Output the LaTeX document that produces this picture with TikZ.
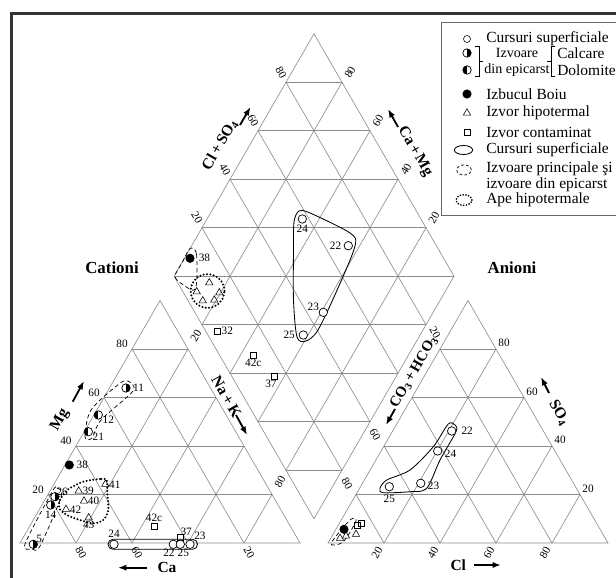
\documentclass[tikz,border=0pt]{standalone}
\usepackage{fontspec}
\setmainfont{Liberation Serif}
\usetikzlibrary{calc,shapes.geometric,arrows.meta,positioning}

\tikzset{
  gridline/.style={black!45, line width=0.45pt},
  num/.style={font=\fontsize{8}{9}\selectfont, inner sep=0.6pt},
  axname/.style={font=\fontsize{11}{12}\selectfont\bfseries, inner sep=0.5pt},
  axarrow/.style={-{Latex[length=6pt,width=4.5pt]}, line width=1.3pt},
  legtext/.style={font=\fontsize{11}{12}\selectfont, anchor=west, inner sep=0pt},
  surf/.style={circle, draw, fill=white, line width=0.5pt, minimum size=6pt, inner sep=0pt},
  calcare/.style={surf, path picture={\fill[black] (path picture bounding box.north) rectangle (path picture bounding box.south east);}},
  dolomite/.style={surf, path picture={\fill[black] (path picture bounding box.north) rectangle (path picture bounding box.south west);}},
  boiu/.style={circle, fill=black, minimum size=6.5pt, inner sep=0pt},
  hipo/.style={regular polygon, regular polygon sides=3, draw, line width=0.4pt, minimum size=6pt, inner sep=0pt},
  contam/.style={rectangle, draw, line width=0.4pt, minimum size=4.3pt, inner sep=0pt},
  grpsurf/.style={line width=0.6pt},
  grpizv/.style={line width=0.5pt, dash pattern=on 3pt off 2pt},
  grphipo/.style={line width=1.6pt, dash pattern=on 0pt off 2.4pt, line cap=round},
}

\begin{document}
\begin{tikzpicture}[x=0.025cm, y=-0.025cm]
  \useasboundingbox (0,0) rectangle (616,577);
  % Frame
  \draw[line width=1.5pt, black!80] (11.5,580) |- (620,13.5);

  % Vertices of the two triangles and of the diamond
  \coordinate (Ca) at (20,543);
  \coordinate (NaK) at (300,543);
  \coordinate (Mg) at (160,300.5);
  \coordinate (HCO) at (328,543);
  \coordinate (Cl) at (608,543);
  \coordinate (SO) at (468,300.5);
  \coordinate (DB) at (314,518.75);
  \coordinate (DL) at (174,276.26);
  \coordinate (DT) at (314,33.77);
  \coordinate (DR) at (454,276.26);

  % Grids
  \draw[gridline] (Ca) -- (NaK) -- (Mg) -- cycle;
  \draw[gridline] (HCO) -- (Cl) -- (SO) -- cycle;
  \draw[gridline] (DB) -- (DL) -- (DT) -- (DR) -- cycle;
  \draw[gridline] (DL) -- (DR);
  \foreach \k in {0.2,0.4,0.6,0.8}{
    \draw[gridline] ($(Ca)!\k!(NaK)$) -- ($(Ca)!\k!(Mg)$);
    \draw[gridline] ($(NaK)!\k!(Ca)$) -- ($(NaK)!\k!(Mg)$);
    \draw[gridline] ($(Mg)!\k!(Ca)$) -- ($(Mg)!\k!(NaK)$);
    \draw[gridline] ($(HCO)!\k!(Cl)$) -- ($(HCO)!\k!(SO)$);
    \draw[gridline] ($(Cl)!\k!(HCO)$) -- ($(Cl)!\k!(SO)$);
    \draw[gridline] ($(SO)!\k!(HCO)$) -- ($(SO)!\k!(Cl)$);
    \draw[gridline] ($(DB)!\k!(DR)$) -- ($(DL)!\k!(DT)$);
    \draw[gridline] ($(DB)!\k!(DL)$) -- ($(DR)!\k!(DT)$);
    \draw[gridline] ($(DB)!\k!(DL)$) -- ($(DB)!\k!(DR)$);
    \draw[gridline] ($(DT)!\k!(DL)$) -- ($(DT)!\k!(DR)$);
  }

  % Scale values
  \foreach \v/\k in {20/0.2,40/0.4,60/0.6,80/0.8}{
    \node[num] at ($(Ca)!\k!(Mg)+(-10,-5)$) {\v};
    \node[num] at ($(Cl)!\k!(SO)+(8,-6)$) {\v};
    \node[num, rotate=60] at ($(HCO)!\k!(Cl)+(-7,10)$) {\v};
    \node[num, rotate=-60] at ($(DL)!\k!(DT)+(-5,-10)$) {\v};
  }
  \foreach \v/\k in {80/0.2,60/0.4,40/0.6,20/0.8}
    \node[num, rotate=60] at ($(DT)!\k!(DR)+(8,-10)$) {\v};
  \foreach \v/\k in {80/0.2,60/0.4,20/0.8}
    \node[num, rotate=-60] at ($(Ca)!\k!(NaK)+(5,10)$) {\v};
  \foreach \v/\k in {20/0.8,80/0.2}
    \node[num, rotate=60] at ($(NaK)!\k!(Mg)+(8,-13)$) {\v};
  \foreach \v/\k in {60/0.4,80/0.2}
    \node[num, rotate=-60] at ($(HCO)!\k!(SO)+(-9,-11)$) {\v};
  \node[num, rotate=-60] at ($(HCO)!0.8!(SO)+(-5,-16)$) {20};

  % Axis names
  \node[font=\fontsize{12}{14}\selectfont\bfseries] (cationi) at (112,268) {Cationi};
  \node[font=\fontsize{12}{14}\selectfont\bfseries] (anioni) at (512,268) {Anioni};
  \node[axname, rotate=60] (tMg) at (60,420) {Mg};
  \draw[axarrow] (72.7,401.7) -- (84,381);
  \node[axname] (tCa) at (167,567.7) {Ca};
  \draw[axarrow] (147,567.7) -- (118,567.7);
  \node[axname, rotate=-60] (tNaK) at (226.5,396.5) {Na\,+\,K};
  \draw[axarrow] (236,415) -- (247,435);
  \node[axname] (tCl) at (458.3,565) {Cl};
  \draw[axarrow] (474,565) -- (501,565);
  \node[axname, rotate=-60] (tSO) at (559,413) {SO\textsubscript{4}};
  \draw[axarrow] (549,393) -- (541,377);
  \node[axname, rotate=60, font=\fontsize{10.5}{12}\selectfont\bfseries] (tHCO) at (414,372) {CO\textsubscript{3}\,+\,HCO\textsubscript{3}};
  \draw[axarrow] (395,409) -- (386,425);
  \node[axname, rotate=60] (tClSO) at (220,145) {Cl\,+\,SO\textsubscript{4}};
  \draw[axarrow] (240,125) -- (250.5,107);
  \node[axname, rotate=-60] (tCaMg) at (415,151.7) {Ca\,+\,Mg};
  \draw[axarrow] (398,127) -- (388,109);

  % Groups, cation triangle
  \draw[grpizv] plot[smooth cycle] coordinates {(128,381) (133,391) (101,420) (92,438) (85,437) (91,410) (119,384)};
  \draw[grpizv] plot[smooth cycle] coordinates {(52,492) (57,488) (61,497) (40,546) (32,549) (25,544)};
  \draw[grphipo] plot[smooth cycle] coordinates {(106.7,480) (100,479) (83.3,481.7) (68.3,489.3) (60,500) (59.3,508.3) (66.7,515) (80,520) (93.3,523.3) (103.3,520) (108.3,510) (107.3,493.3)};
  \draw[grpsurf, rounded corners=3.5pt] (108,539.3) rectangle (197.5,549.3);

  % Points, cation triangle
  \node[calcare] (c11) at (126,388) {};
  \node[num, right=1pt of c11] {11};
  \node[dolomite] (c12) at (98.3,415) {};
  \node[num, below right=-2pt and 0pt of c12] {12};
  \node[dolomite] (c21) at (88.3,431.7) {};
  \node[num, below right=-2pt and 0pt of c21] {21};
  \node[boiu] (c38) at (69.3,465) {};
  \node[num, right=1pt of c38] {38};
  \node[calcare] (c26) at (55,496.7) {};
  \node[num, above right=-2pt and -2pt of c26] {26};
  \node[calcare] (c14) at (50.7,505) {};
  \node[num, below=0pt of c14] {14};
  \node[calcare] (c5) at (33.3,544.3) {};
  \node[num, above right=-2pt and -1pt of c5] {5};
  \node[hipo] (c39) at (78.7,491) {};
  \node[num, right=0pt of c39] {39};
  \node[hipo] (c41) at (105.3,484.3) {};
  \node[num, right=0pt of c41] {41};
  \node[hipo] (c40) at (84,501) {};
  \node[num, right=0pt of c40] {40};
  \node[hipo] (c42) at (66,509.3) {};
  \node[num, right=0pt of c42] {42};
  \node[hipo] (c43) at (88.7,517.7) {};
  \node[num, below=0pt of c43] {43};
  \node[contam] (c42c) at (154,526) {};
  \node[num, above=0pt of c42c] {42c};
  \node[contam] (c37) at (180.3,537.7) {};
  \node[num, above right=-2pt and -3pt of c37] {37};
  \node[surf] (c24) at (114,544.3) {};
  \node[num, above=1pt of c24] {24};
  \node[surf] (c22) at (173.3,544.3) {};
  \node[num, below left=0pt and -4pt of c22] {22};
  \node[surf] (c25) at (180.3,544.3) {};
  \node[num, below right=0pt and -5pt of c25] {25};
  \node[surf] (c23) at (190,544.3) {};
  \node[num, above right=0pt and 0pt of c23] {23};

  % Groups, diamond
  \draw[grpizv] plot[smooth cycle] coordinates {(190,248.5) (196.5,254) (195.5,289) (182,284) (175,276) (182,263)};
  \draw[grphipo] (207.5,291) circle (12pt);
  \draw[grpsurf] plot[smooth cycle] coordinates {(294,222) (299,211) (310,213) (350,233) (355,246) (338,288) (318,330) (306,341) (297,337) (293.5,300) (293.5,250)};

  % Points, diamond
  \node[boiu] (d38) at (190,258.3) {};
  \node[num, right=2pt of d38] {38};
  \node[hipo] (d1) at (209.3,282.7) {};
  \node[hipo] (d2) at (196.7,291.7) {};
  \node[hipo] (d3) at (202.7,300.7) {};
  \node[hipo] (d4) at (214.3,300) {};
  \node[hipo] (d5) at (219.3,292.7) {};
  \node[contam] (d32) at (217.3,331) {};
  \node[num, right=0pt of d32] {32};
  \node[contam] (d42c) at (253.3,355) {};
  \node[num, below=0pt of d42c] {42c};
  \node[contam] (d37) at (274,376) {};
  \node[num, below left=0pt and -5pt of d37] {37};
  \node[surf] (d24) at (302.3,219) {};
  \node[num, below=0pt of d24] {24};
  \node[surf] (d22) at (348.3,245.7) {};
  \node[num, left=1pt of d22] {22};
  \node[surf] (d23) at (323.3,312.3) {};
  \node[num, above left=-2pt and 0pt of d23] {23};
  \node[surf] (d25) at (303.3,335) {};
  \node[num, left=2pt of d25] {25};

  % Groups, anion triangle
  \draw[grpsurf] plot[smooth cycle] coordinates {(455,425) (448.3,424) (433.3,446.7) (410,470) (386.7,480) (380,488.3) (383.3,492.7) (410,491.7) (426.7,488.3) (440,460) (456,431.7)};
  \draw[grpizv] plot[smooth cycle] coordinates {(331,543.5) (350,520) (356,521) (343,542)};

  % Points, anion triangle
  \node[surf] (a22) at (451.7,431) {};
  \node[num, right=3pt of a22] {22};
  \node[surf] (a24) at (437.7,451) {};
  \node[num, below right=-4pt and 2pt of a24] {24};
  \node[surf] (a23) at (420.7,483.3) {};
  \node[num, below right=-4pt and 2pt of a23] {23};
  \node[surf] (a25) at (389.3,486.7) {};
  \node[num, below=2pt of a25] {25};
  \node[contam] (a1) at (361.7,523.3) {};
  \node[contam] (a2) at (357.7,525.7) {};
  \node[hipo] (a3) at (356,534.3) {};
  \node[hipo] (a4) at (340,538.3) {};
  \node[hipo] (a5) at (346,536) {};
  \node[boiu] (a38) at (344,529.3) {};

  % Legend
  \draw[black!60, line width=0.5pt] (441,22) rectangle (620,215);
  \node[surf, minimum size=5pt, line width=0.4pt] (lg1) at (467,39) {};
  \node[legtext] at (486,39) {Cursuri superficiale};
  \node[calcare, minimum size=6pt] (lg2) at (467,53) {};
  \node[dolomite, minimum size=6pt] (lg3) at (467,70) {};
  \draw[line width=0.5pt] (475,46) -- (479,46) -- (479,76) -- (475,76);
  \draw[line width=0.5pt] (479,61) -- (483,61);
  \node[font=\fontsize{10}{11}\selectfont, inner sep=0pt] (izv) at (517,53) {Izvoare};
  \node[font=\fontsize{10}{11}\selectfont, inner sep=0pt] (epi) at (517,70) {din epicarst};
  \draw[line width=0.5pt] (555,46) -- (551,46) -- (551,76) -- (555,76);
  \draw[line width=0.5pt] (551,61) -- (547,61);
  \node[legtext] at (557,53) {Calcare};
  \node[legtext] at (557,70) {Dolomite};
  \node[boiu, minimum size=6.5pt] (lg4) at (467,94) {};
  \node[legtext] at (486,94) {Izbucul Boiu};
  \node[hipo, minimum size=6pt] (lg5) at (467,113) {};
  \node[legtext] at (486,113) {Izvor hipotermal};
  \node[contam, minimum size=4.3pt] (lg6) at (467,132) {};
  \node[legtext] at (486,132) {Izvor contaminat};
  \draw[grpsurf] (463.5,150) ellipse (6.5pt and 3.2pt);
  \node[legtext] at (486,150) {Cursuri superficiale};
  \draw[grpizv, dash pattern=on 2pt off 1.5pt] (464,170) ellipse (5.2pt and 3.6pt);
  \node[legtext] at (486,169) {Izvoare principale şi};
  \node[legtext] at (486,185) {izvoare din epicarst};
  \draw[grphipo, line width=1.3pt, dash pattern=on 0pt off 2pt] (464,200) ellipse (5.6pt and 3.8pt);
  \node[legtext] at (486,200) {Ape hipotermale};
\end{tikzpicture}
\end{document}
